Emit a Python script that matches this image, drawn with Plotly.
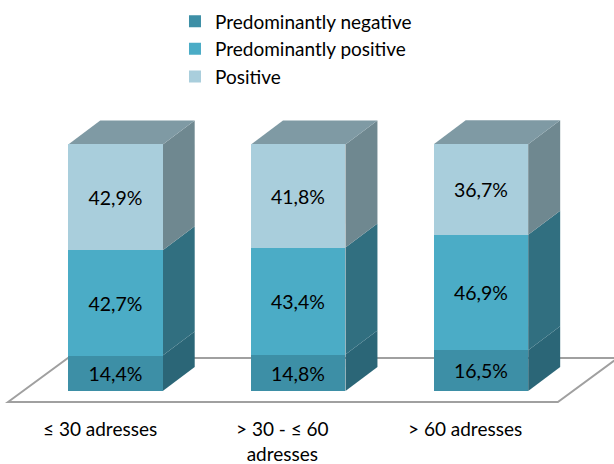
import plotly.graph_objects as go

# Share of ratings per company size (percent)
categories = ["≤ 30 adresses", "> 30 - ≤ 60<br>adresses", "> 60 adresses"]
series_names = ["Predominantly negative", "Predominantly positive", "Positive"]
negative = [14.4, 14.8, 16.5]
pred_positive = [42.7, 43.4, 46.9]
positive = [42.9, 41.8, 36.7]

front_colors = ["#3D8FA6", "#4BACC6", "#A9CEDC"]
side_colors = ["#2B6677", "#316F80", "#6F8890"]
top_color = "#7F9AA4"
FONT = "Lato"

series = [negative, pred_positive, positive]
x = list(range(len(categories)))
bar_w = 0.517
dx, dy = 0.175, 9.74  # extrusion of the 3D boxes in axis units

fig = go.Figure()
for name, vals, col in zip(series_names, series, front_colors):
    fig.add_trace(go.Bar(
        x=x, y=vals, name=name, width=bar_w,
        marker=dict(color=col, line=dict(width=0)),
        text=[f"{v:.1f}%".replace(".", ",") for v in vals],
        textposition="inside", insidetextanchor="middle",
        textangle=0, constraintext="none",
        textfont=dict(family=FONT, size=19.5, color="#000000"),
        hoverinfo="skip",
    ))

shapes = []
# floor parallelogram
fl, fr, fy = -0.588, len(categories) - 1 + 0.421, -4.46
fdx, fdy = 0.328, 17.85
shapes.append(dict(
    type="path", xref="x", yref="y", layer="below",
    path=f"M{fl},{fy} L{fl+fdx},{fy+fdy} L{fr+fdx},{fy+fdy} L{fr},{fy} Z",
    fillcolor="#FFFFFF", line=dict(color="#A0A0A0", width=2),
))

# side and top faces of the stacked boxes
for i in x:
    xl, xr = i - bar_w / 2, i + bar_w / 2
    base = 0.0
    for vals, sc in zip(series, side_colors):
        top = base + vals[i]
        shapes.append(dict(
            type="path", xref="x", yref="y", layer="below",
            path=f"M{xr},{base} L{xr+dx},{base+dy} L{xr+dx},{top+dy} L{xr},{top} Z",
            fillcolor=sc, line=dict(width=0),
        ))
        base = top
    shapes.append(dict(
        type="path", xref="x", yref="y", layer="below",
        path=f"M{xl},{base} L{xl+dx},{base+dy} L{xr+dx},{base+dy} L{xr},{base} Z",
        fillcolor=top_color, line=dict(width=0),
    ))

annotations = []
for i, c in enumerate(categories):
    annotations.append(dict(
        x=i - 0.085, y=-9.6, xref="x", yref="y", text=c,
        showarrow=False, yanchor="top",
        font=dict(family=FONT, size=19, color="#000000"),
    ))

fig.update_layout(
    width=614, height=464,
    margin=dict(l=0, r=0, t=0, b=0),
    paper_bgcolor="white", plot_bgcolor="white",
    barmode="stack", bargap=0,
    shapes=shapes, annotations=annotations,
    xaxis=dict(range=[-0.632, 2.728], visible=False, fixedrange=True),
    yaxis=dict(range=[-29.6, 158.6], visible=False, fixedrange=True),
    showlegend=True,
    legend=dict(
        x=0.285, y=0.995, xanchor="left", yanchor="top",
        traceorder="normal", bgcolor="rgba(0,0,0,0)",
        font=dict(family=FONT, size=19, color="#000000"),
        itemclick=False, itemdoubleclick=False,
    ),
)

fig.write_html("out.html")
